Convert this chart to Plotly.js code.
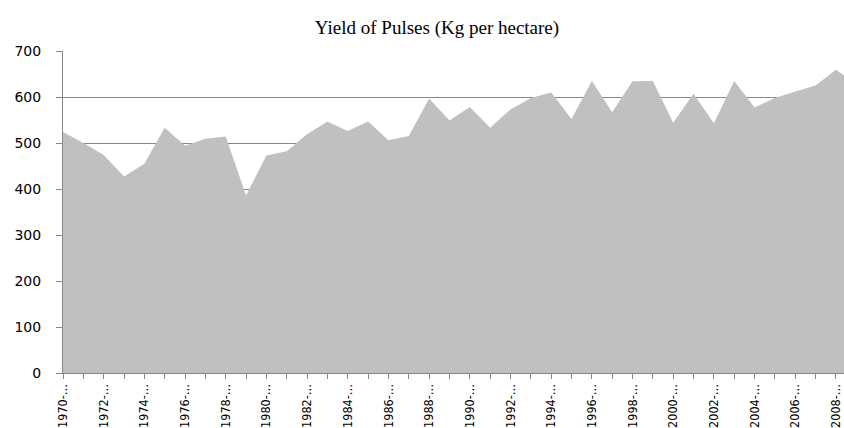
<!DOCTYPE html>
<html>
<head>
<meta charset="utf-8">
<script src="https://cdn.plot.ly/plotly-3.0.1.min.js"></script>
<style>
html, body { margin: 0; padding: 0; background: #fff; overflow: hidden; }
#chart { width: 844px; height: 428px; }
</style>
</head>
<body>
<div id="chart"></div>
<script>
const years = ["1970-71","1971-72","1972-73","1973-74","1974-75","1975-76","1976-77","1977-78","1978-79","1979-80",
  "1980-81","1981-82","1982-83","1983-84","1984-85","1985-86","1986-87","1987-88","1988-89","1989-90",
  "1990-91","1991-92","1992-93","1993-94","1994-95","1995-96","1996-97","1997-98","1998-99","1999-00",
  "2000-01","2001-02","2002-03","2003-04","2004-05","2005-06","2006-07","2007-08","2008-09","2009-10"];
const yieldKgHa = [524, 500, 474, 427, 455, 533, 494, 509, 514, 386,
  473, 482, 519, 547, 526, 547, 506, 515, 597, 549,
  578, 533, 573, 598, 610, 552, 635, 567, 634, 635,
  544, 607, 543, 635, 577, 598, 612, 625, 659, 630];
const tickLabels = years.map((y, i) => (i % 2 === 0 ? y.slice(0, 5) + "\u2026" : ""));
const yTicks = [0, 100, 200, 300, 400, 500, 600, 700];
const chartTitle = "Yield of Pulses (Kg per hectare)";

const trace = {
  type: "scatter",
  x: years,
  y: yieldKgHa,
  mode: "none",
  fill: "tozeroy",
  fillcolor: "#c0c0c0",
  hoverinfo: "x+y"
};

const layout = {
  width: 844,
  height: 428,
  margin: { l: 63, r: 0, t: 51, b: 55, pad: 0 },
  paper_bgcolor: "#ffffff",
  plot_bgcolor: "#ffffff",
  showlegend: false,
  title: {
    text: chartTitle,
    font: { family: "Liberation Serif, Times New Roman, serif", size: 19, color: "#000" },
    xref: "container", x: 437 / 844, xanchor: "center",
    yref: "container", y: 1 - 27 / 428, yanchor: "middle"
  },
  xaxis: {
    type: "category",
    range: [0, 781 / 20.34],
    tickmode: "array",
    tickvals: years,
    ticktext: tickLabels,
    tickangle: -90,
    ticks: "outside",
    ticklen: 5,
    tickcolor: "#868686",
    tickwidth: 1,
    showline: true,
    linecolor: "#868686",
    linewidth: 1,
    showgrid: false,
    zeroline: false,
    tickfont: { family: "DejaVu Sans Condensed, Liberation Sans Narrow, sans-serif", size: 12.5, color: "#000" },
    fixedrange: true
  },
  yaxis: {
    range: [0, 700],
    tickmode: "array",
    tickvals: yTicks,
    ticks: "outside",
    ticklen: 6,
    tickcolor: "#868686",
    tickwidth: 1,
    showline: true,
    linecolor: "#868686",
    linewidth: 1,
    showgrid: true,
    gridcolor: "#868686",
    gridwidth: 1,
    zeroline: false,
    ticklabelstandoff: 12,
    tickfont: { family: "DejaVu Sans, Verdana, sans-serif", size: 14, color: "#000" },
    fixedrange: true
  }
};

Plotly.newPlot("chart", [trace], layout, { displayModeBar: false, staticPlot: true });
</script>
</body>
</html>
